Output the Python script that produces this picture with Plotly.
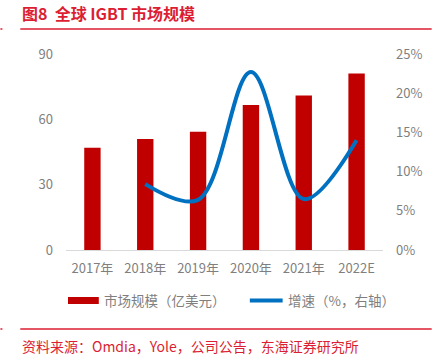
import plotly.graph_objects as go

categories = ["2017年", "2018年", "2019年", "2020年", "2021年", "2022E"]
market_size = [47.0, 51.0, 54.3, 66.6, 71.0, 81.0]
growth_categories = ["2018年", "2019年", "2020年", "2021年", "2022E"]
growth_pct = [8.4, 6.4, 22.7, 6.5, 14.0]
left_ticks = [0, 30, 60, 90]
right_ticks = [0, 5, 10, 15, 20, 25]
right_tick_labels = ["0%", "5%", "10%", "15%", "20%", "25%"]

W, H = 434, 355
L, R, T, B = 66, 49, 54, 105
PW, PH = W - L - R, H - T - B

def px(x):
    return (x - L) / PW

def py(y):
    return (H - B - y) / PH

FONT = "Noto Sans CJK SC"
RED = "#C00000"
BLUE = "#0070C0"
TITLE_RED = "#DC1E32"
GRAY = "#7F7F7F"

fig = go.Figure()
fig.add_trace(go.Bar(x=categories, y=market_size, marker=dict(color=RED, line=dict(width=0)),
                     name="市场规模（亿美元）", showlegend=False, hoverinfo="skip"))
fig.add_trace(go.Scatter(x=growth_categories, y=growth_pct, yaxis="y2", mode="lines",
                         line=dict(color=BLUE, width=4, shape="spline", smoothing=1.0),
                         name="增速（%，右轴）", showlegend=False, hoverinfo="skip"))

fig.update_layout(
    width=W, height=H,
    margin=dict(l=L, r=R, t=T, b=B),
    paper_bgcolor="white", plot_bgcolor="white",
    font=dict(family=FONT, color=GRAY, size=13),
    bargap=0.69,
    xaxis=dict(type="category", showline=True, linecolor="#D9D9D9", linewidth=1,
               ticks="", tickfont=dict(size=13, color=GRAY), showgrid=False,
               ticklabelstandoff=6),
    yaxis=dict(range=[0, 90], tickvals=left_ticks, showgrid=False, zeroline=False,
               showline=False, tickfont=dict(size=13, color=GRAY), ticklabelstandoff=12),
    yaxis2=dict(range=[0, 25], tickvals=right_ticks, ticktext=right_tick_labels,
                overlaying="y", side="right", showgrid=False, zeroline=False,
                showline=False, tickfont=dict(size=13, color=GRAY), ticklabelstandoff=12),
    showlegend=False,
)

shapes = [
    # header line
    dict(type="line", xref="paper", yref="paper", x0=px(20), x1=px(434), y0=py(29), y1=py(29),
         line=dict(color=TITLE_RED, width=1.5)),
    dict(type="line", xref="paper", yref="paper", x0=px(0), x1=px(2), y0=py(29), y1=py(29),
         line=dict(color=TITLE_RED, width=1.5)),
    # footer line
    dict(type="line", xref="paper", yref="paper", x0=px(20), x1=px(434), y0=py(329), y1=py(329),
         line=dict(color=TITLE_RED, width=1.5)),
    dict(type="line", xref="paper", yref="paper", x0=px(0), x1=px(2), y0=py(329), y1=py(329),
         line=dict(color=TITLE_RED, width=1.5)),
    # legend swatches
    dict(type="rect", xref="paper", yref="paper", x0=px(68), x1=px(99), y0=py(297), y1=py(304),
         fillcolor=RED, line=dict(width=0)),
    dict(type="line", xref="paper", yref="paper", x0=px(251), x1=px(284), y0=py(300.5), y1=py(300.5),
         line=dict(color=BLUE, width=4)),
]
fig.update_layout(shapes=shapes)

annotations = [
    dict(text="<b>图8  全球 IGBT 市场规模</b>", xref="paper", yref="paper", x=px(20), y=py(13),
         xanchor="left", yanchor="middle", showarrow=False,
         font=dict(family=FONT, size=16, color=TITLE_RED)),
    dict(text="市场规模（亿美元）", xref="paper", yref="paper", x=px(102), y=py(300),
         xanchor="left", yanchor="middle", showarrow=False,
         font=dict(family=FONT, size=13.5, color=GRAY)),
    dict(text="增速（%，右轴）", xref="paper", yref="paper", x=px(287), y=py(300),
         xanchor="left", yanchor="middle", showarrow=False,
         font=dict(family=FONT, size=13.5, color=GRAY)),
    dict(text="资料来源：Omdia，Yole，公司公告，东海证券研究所", xref="paper", yref="paper",
         x=px(20), y=py(346), xanchor="left", yanchor="middle", showarrow=False,
         font=dict(family=FONT, size=14, color=TITLE_RED)),
]
fig.update_layout(annotations=annotations)

fig.write_html("out.html", config={"displayModeBar": False},
               post_script="document.body.style.margin='0';document.body.style.padding='0';")
